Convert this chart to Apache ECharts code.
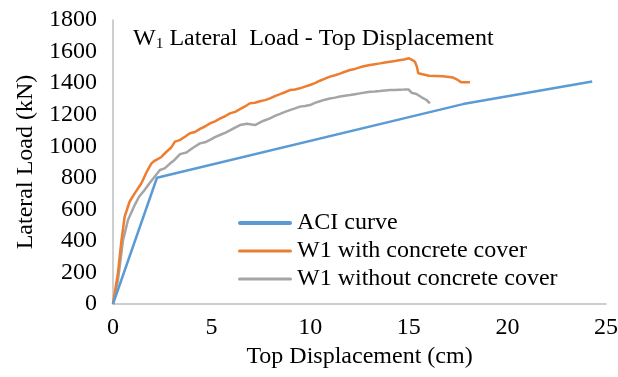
<!DOCTYPE html>
<html>
<head>
<meta charset="utf-8">
<script src="https://cdn.jsdelivr.net/npm/echarts@6/dist/echarts.min.js"></script>
<style>html,body{margin:0;padding:0;background:#fff}#c{width:618px;height:377px}</style>
</head>
<body>
<div id="c"></div>
<script>
const seriesNames = ['ACI curve', 'W1 with concrete cover', 'W1 without concrete cover'];
const aciCurve = [[0,0],[2.23,800],[17.75,1267],[24.3,1410]];
const withCover = [
[0,0],[0.1,80],[0.25,196],[0.43,405],[0.59,553],[0.84,648],[1.1,701],[1.44,765],[1.72,840],[1.95,891],
[2.08,905],[2.2,913],[2.43,930],[2.71,965],[2.94,990],[3.14,1029],[3.38,1039],[3.65,1060],[3.9,1082],[4.16,1090],
[4.41,1110],[4.66,1125],[4.92,1145],[5.17,1158],[5.42,1175],[5.68,1190],[5.93,1208],[6.19,1218],[6.44,1235],[6.69,1252],
[6.95,1272],[7.2,1276],[7.45,1285],[7.71,1292],[7.96,1303],[8.21,1318],[8.47,1330],[8.72,1342],[8.97,1356],[9.23,1360],
[9.48,1367],[9.73,1378],[9.99,1388],[10.24,1400],[10.49,1415],[10.75,1428],[11.0,1441],[11.26,1450],[11.51,1460],[11.76,1472],
[12.02,1483],[12.27,1490],[12.52,1500],[12.78,1508],[13.03,1515],[13.28,1520],[13.54,1525],[13.79,1530],[14.04,1535],[14.3,1540],
[14.5,1545],[14.75,1550],[15.01,1557],[15.16,1548],[15.31,1535],[15.41,1504],[15.48,1462],[15.56,1451],[16.02,1447],[16.73,1444],
[17.24,1435],[17.44,1423],[17.67,1405],[18.1,1405]
];
const withoutCover = [
[0,0],[0.1,60],[0.25,152],[0.51,405],[0.76,532],[1.1,627],[1.32,680],[1.6,722],[1.88,770],[2.11,807],
[2.38,849],[2.62,860],[2.89,890],[3.12,913],[3.4,950],[3.72,960],[4.06,990],[4.41,1018],[4.66,1025],[4.92,1040],
[5.17,1058],[5.42,1071],[5.68,1085],[5.93,1100],[6.19,1118],[6.44,1134],[6.79,1142],[7.2,1134],[7.61,1160],[7.96,1177],
[8.21,1192],[8.47,1205],[8.72,1218],[8.97,1229],[9.23,1240],[9.48,1251],[9.73,1255],[9.99,1261],[10.24,1275],[10.49,1285],
[10.75,1295],[11.0,1303],[11.26,1308],[11.51,1315],[11.76,1320],[12.02,1324],[12.27,1330],[12.52,1335],[12.78,1340],[13.03,1345],
[13.28,1347],[13.54,1350],[13.79,1353],[14.04,1356],[14.3,1357],[14.5,1358],[14.75,1359],[14.98,1360],[15.14,1339],[15.39,1331],
[15.65,1310],[15.9,1293],[16.07,1272]
];
const xTicks = {min:0, max:25, interval:5};
const yTicks = {min:0, max:1800, interval:200};
const colors = ['#5B9BD5', '#ED7D31', '#A5A5A5'];

const font = 'Liberation Serif';
const chart = echarts.init(document.getElementById('c'), null, {renderer:'canvas'});
chart.setOption({
  animation: false,
  backgroundColor: '#fff',
  title: {
    text: '{a|W}{s|1}{a| Lateral  Load - Top Displacement}',
    left: 133, top: 26, padding: 0,
    textStyle: {
      fontWeight: 'normal',
      rich: {
        a: {fontFamily: font, fontSize: 24, fontWeight: 'normal', color: '#000'},
        s: {fontFamily: font, fontSize: 15.5, fontWeight: 'normal', color: '#000', verticalAlign: 'bottom', padding: [10,0,0,0]}
      }
    }
  },
  legend: {
    orient: 'vertical', left: 238, top: 211, padding: 0,
    itemWidth: 54, itemHeight: 14, itemGap: 4, itemTextGap: 5,
    textStyle: {fontFamily: font, fontSize: 24, color: '#000', lineHeight: 24},
    data: [
      {name: seriesNames[0], icon: 'path://M2,0L52,0A2,2 0 0 1 52,4L2,4A2,2 0 0 1 2,0Z', itemStyle:{color:colors[0]}},
      {name: seriesNames[1], icon: 'path://M1.5,0L52.5,0A1.5,1.5 0 0 1 52.5,3L1.5,3A1.5,1.5 0 0 1 1.5,0Z', itemStyle:{color:colors[1]}},
      {name: seriesNames[2], icon: 'path://M1.5,0L52.5,0A1.5,1.5 0 0 1 52.5,3L1.5,3A1.5,1.5 0 0 1 1.5,0Z', itemStyle:{color:colors[2]}}
    ]
  },
  grid: {left: 113, right: 12, top: 20, bottom: 73, containLabel: false, outerBoundsMode: 'none'},
  xAxis: {
    type: 'value', min: xTicks.min, max: xTicks.max, interval: xTicks.interval,
    name: 'Top Displacement (cm)', nameLocation: 'middle', nameGap: 40,
    nameTextStyle: {fontFamily: font, fontSize: 24, color: '#000'},
    axisLine: {show: true, lineStyle: {color: '#BFBFBF', width: 1.5}},
    axisTick: {show: false}, splitLine: {show: false},
    axisLabel: {fontFamily: font, fontSize: 24, color: '#000', margin: 12, formatter: v => String(v)}
  },
  yAxis: {
    type: 'value', min: yTicks.min, max: yTicks.max, interval: yTicks.interval,
    name: 'Lateral Load (kN)', nameLocation: 'middle', nameGap: 59,
    nameTextStyle: {fontFamily: font, fontSize: 24, color: '#000'},
    axisLine: {show: true, lineStyle: {color: '#BFBFBF', width: 1.5}},
    axisTick: {show: false}, splitLine: {show: false},
    axisLabel: {fontFamily: font, fontSize: 24, color: '#000', margin: 16, formatter: v => String(v)}
  },
  series: [
    {name: seriesNames[0], type: 'line', data: aciCurve, showSymbol: false, symbol: 'none', color: colors[0], lineStyle: {width: 2.5, color: colors[0]}, z: 3},
    {name: seriesNames[1], type: 'line', data: withCover, showSymbol: false, symbol: 'none', color: colors[1], lineStyle: {width: 2.5, color: colors[1]}, z: 2},
    {name: seriesNames[2], type: 'line', data: withoutCover, showSymbol: false, symbol: 'none', color: colors[2], lineStyle: {width: 2.5, color: colors[2]}, z: 1}
  ]
});
</script>
</body>
</html>
